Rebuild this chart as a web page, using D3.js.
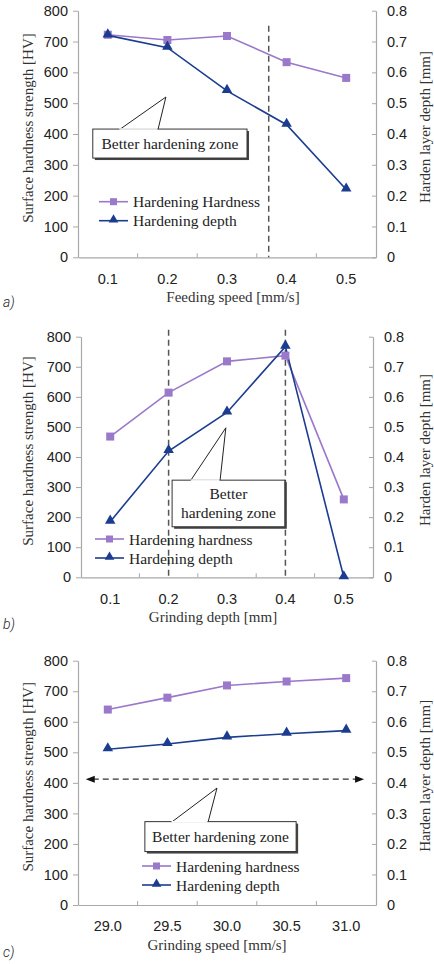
<!DOCTYPE html>
<html><head><meta charset="utf-8">
<script src="https://cdn.jsdelivr.net/npm/d3@7"></script>
<style>body{margin:0;background:#fff}svg{display:block}</style>
</head><body><svg id="chart" width="434" height="964"></svg>
<script>
// ---------- data ----------
const hardnessTicks = [0, 100, 200, 300, 400, 500, 600, 700, 800];
const depthTicks = [0, 0.1, 0.2, 0.3, 0.4, 0.5, 0.6, 0.7, 0.8];
const depthTickLabels = ["0", "0.1", "0.2", "0.3", "0.4", "0.5", "0.6", "0.7", "0.8"];

const feedSpeedCats = [0.1, 0.2, 0.3, 0.4, 0.5];
const feedSpeedLabels = ["0.1", "0.2", "0.3", "0.4", "0.5"];
const feedHardness = [722, 705, 718, 633, 582];
const feedDepth = [0.72, 0.68, 0.54, 0.43, 0.22];
const feedZoneLines = [0.37];

const grindDepthCats = [0.1, 0.2, 0.3, 0.4, 0.5];
const grindDepthLabels = ["0.1", "0.2", "0.3", "0.4", "0.5"];
const grindDepthHardness = [468, 614, 718, 737, 259];
const grindDepthDepth = [0.185, 0.42, 0.548, 0.767, 0];
const grindDepthZoneLines = [0.2, 0.4];

const grindSpeedCats = [29.0, 29.5, 30.0, 30.5, 31.0];
const grindSpeedLabels = ["29.0", "29.5", "30.0", "30.5", "31.0"];
const grindSpeedHardness = [640, 679, 719, 732, 743];
const grindSpeedDepth = [0.51, 0.527, 0.549, 0.561, 0.571];
const grindSpeedZoneArrow = [28.815, 31.15, 412];

const seriesNamesA = ["Hardening Hardness", "Hardening depth"];
const seriesNamesB = ["Hardening hardness", "Hardening depth"];
const calloutText = "Better hardening zone";

// ---------- style ----------
const C_HARD = "#9a78ca";
const C_DEPTH = "#1b3c8f";
const AXIS_C = "#a8a8a8";
const SERIF = "'Liberation Serif','Times New Roman',serif";
const SANS = "'Liberation Sans',Arial,sans-serif";

const svg = d3.select("#chart");
const tri = d3.symbol().type(d3.symbolTriangle).size(48);

function panel(o) {
  const g = svg.append("g");
  const x = d3.scaleBand().domain(o.labels).range([o.left, o.right]).padding(0);
  const bw = x.bandwidth();
  const xv = d3.scaleLinear().domain([o.cats[0], o.cats[o.cats.length - 1]])
    .range([x(o.labels[0]) + bw / 2, x(o.labels[o.labels.length - 1]) + bw / 2]);
  const yL = d3.scaleLinear().domain([0, 800]).range([o.bottom, o.top]);
  const yR = d3.scaleLinear().domain([0, 0.8]).range([o.bottom, o.top]);

  // left axis
  const ax1 = g.append("g").attr("transform", `translate(${o.left},0)`)
    .call(d3.axisLeft(yL).tickValues(hardnessTicks).tickSize(5).tickSizeOuter(0).tickPadding(5));
  // right axis
  const ax2 = g.append("g").attr("transform", `translate(${o.right},0)`)
    .call(d3.axisRight(yR).tickValues(depthTicks).tickFormat((d, i) => depthTickLabels[i])
      .tickSizeInner(-4).tickSizeOuter(0).tickPadding(11));
  // bottom axis
  const ax3 = g.append("g").attr("transform", `translate(0,${o.bottom})`)
    .call(d3.axisBottom(x).tickSize(0).tickPadding(16));
  [ax1, ax2, ax3].forEach(a => {
    a.select(".domain").attr("stroke", AXIS_C).attr("stroke-width", 1.2);
    a.selectAll(".tick line").attr("stroke", AXIS_C);
    a.selectAll("text").attr("font-family", SANS).attr("font-size", 14.5).attr("fill", "#222");
  });
  // category boundary ticks
  g.selectAll(".bt").data(o.labels.slice(1)).enter().append("line")
    .attr("x1", d => x(d)).attr("x2", d => x(d))
    .attr("y1", o.bottom).attr("y2", o.bottom - 4).attr("stroke", AXIS_C);

  // axis titles
  g.append("text").attr("transform", `translate(28,${(o.top + o.bottom) / 2 - 6}) rotate(-90)`)
    .attr("text-anchor", "middle").attr("dominant-baseline", "central")
    .attr("font-family", SERIF).attr("font-size", 15).attr("fill", "#333")
    .text("Surface hardness strength [HV]");
  g.append("text").attr("transform", `translate(425,${(o.top + o.bottom) / 2 - 7}) rotate(-90)`)
    .attr("text-anchor", "middle").attr("dominant-baseline", "central")
    .attr("font-family", SERIF).attr("font-size", 15).attr("fill", "#333")
    .text("Harden layer depth [mm]");
  g.append("text").attr("x", o.titleX).attr("y", o.bottom + 45)
    .attr("text-anchor", "middle").attr("font-family", SERIF).attr("font-size", 15).attr("fill", "#333")
    .text(o.xTitle);
  g.append("text").attr("x", 3).attr("y", o.bottom + o.tagDy)
    .attr("font-family", "Roboto,sans-serif").attr("font-style", "italic").attr("font-weight", 300)
    .attr("font-size", 14).attr("fill", "#222").text(o.tag);

  // zone markers
  if (o.zoneLines) {
    g.selectAll(".zl").data(o.zoneLines).enter().append("line")
      .attr("x1", d => xv(d)).attr("x2", d => xv(d))
      .attr("y1", o.top + o.zoneTop).attr("y2", o.bottom)
      .attr("stroke", "#555").attr("stroke-width", 1.5).attr("stroke-dasharray", "6,4");
  }
  if (o.zoneArrow) {
    const [a0, a1, lv] = o.zoneArrow;
    const yy = yL(lv);
    g.append("line").attr("x1", xv(a0) + 7).attr("x2", xv(a1) - 7).attr("y1", yy).attr("y2", yy)
      .attr("stroke", "#333").attr("stroke-width", 1.3).attr("stroke-dasharray", "6,4");
    [[xv(a0), 1], [xv(a1), -1]].forEach(([px, s]) => {
      g.append("path").attr("d", `M${px},${yy} L${px + s * 9},${yy - 3.5} L${px + s * 9},${yy + 3.5} Z`)
        .attr("fill", "#111");
    });
  }

  // series
  const lineH = d3.line().x((d, i) => xv(o.cats[i])).y(d => yL(d));
  const lineD = d3.line().x((d, i) => xv(o.cats[i])).y(d => yR(d));
  g.append("path").attr("d", lineH(o.hard)).attr("fill", "none").attr("stroke", C_HARD).attr("stroke-width", 1.6);
  g.append("path").attr("d", lineD(o.depth)).attr("fill", "none").attr("stroke", C_DEPTH).attr("stroke-width", 1.6);
  g.selectAll(".mh").data(o.hard).enter().append("rect")
    .attr("x", (d, i) => xv(o.cats[i]) - 4).attr("y", d => yL(d) - 4)
    .attr("width", 8).attr("height", 8).attr("fill", C_HARD);
  g.selectAll(".md").data(o.depth).enter().append("path")
    .attr("d", tri).attr("transform", (d, i) => `translate(${xv(o.cats[i])},${yR(d) - 1})`)
    .attr("fill", C_DEPTH);

  // callout
  const c = o.callout;
  const bx0 = xv(c.x0), bx1 = xv(c.x1), by0 = yL(c.y0), by1 = yL(c.y1);
  const ax = xv(c.ax), ay = yL(c.ay);
  g.append("line").attr("x1", xv(c.b0)).attr("y1", by0 + 1).attr("x2", ax).attr("y2", ay).attr("stroke", "#222").attr("stroke-width", 1);
  g.append("line").attr("x1", xv(c.b1)).attr("y1", by0 + 1).attr("x2", ax).attr("y2", ay).attr("stroke", "#222").attr("stroke-width", 1);
  g.append("rect").attr("x", bx0 + 2).attr("y", by0 + 2).attr("width", bx1 - bx0).attr("height", by1 - by0).attr("fill", "#444");
  g.append("rect").attr("x", bx0).attr("y", by0).attr("width", bx1 - bx0).attr("height", by1 - by0)
    .attr("fill", "#fff").attr("stroke", "#333").attr("stroke-width", 1);
  // cover pointer base inside box top
  g.append("line").attr("x1", xv(c.b0) + 0.5).attr("x2", xv(c.b1) - 0.5).attr("y1", by0).attr("y2", by0)
    .attr("stroke", "#fff").attr("stroke-width", 1.5);
  const lines = c.lines;
  lines.forEach((t, i) => {
    g.append("text").attr("x", (bx0 + bx1) / 2)
      .attr("y", (by0 + by1) / 2 + (i - (lines.length - 1) / 2) * 19)
      .attr("text-anchor", "middle").attr("dominant-baseline", "central")
      .attr("font-family", SERIF).attr("font-size", 15.5).attr("fill", "#222").text(t);
  });

  // legend
  const L = o.legend;
  [0, 1].forEach(i => {
    const ly = o.top + L.y + i * 19;
    const lx = o.left + L.x;
    const col = i === 0 ? C_HARD : C_DEPTH;
    g.append("line").attr("x1", lx).attr("x2", lx + 29).attr("y1", ly).attr("y2", ly)
      .attr("stroke", col).attr("stroke-width", 1.6);
    if (i === 0) g.append("rect").attr("x", lx + 14.5 - 3.5).attr("y", ly - 3.5).attr("width", 7).attr("height", 7).attr("fill", col);
    else g.append("path").attr("d", d3.symbol().type(d3.symbolTriangle).size(40)).attr("transform", `translate(${lx + 14.5},${ly - 1})`).attr("fill", col);
    g.append("text").attr("x", lx + 34).attr("y", ly).attr("dominant-baseline", "central")
      .attr("font-family", SERIF).attr("font-size", 15.5).attr("fill", "#222").text(L.names[i]);
  });
}

panel({
  cats: feedSpeedCats, labels: feedSpeedLabels, hard: feedHardness, depth: feedDepth,
  left: 78, right: 376, top: 10.7, bottom: 257.3, titleX: 233, xTitle: "Feeding speed [mm/s]",
  tag: "a)", tagDy: 50, zoneLines: feedZoneLines, zoneTop: 15,
  callout: { x0: 0.0748, x1: 0.3336, y0: 416, y1: 322, ax: 0.1975, ay: 520, b0: 0.1185, b1: 0.184, lines: [calloutText] },
  legend: { x: 21, y: 191, names: seriesNamesA }
});
panel({
  cats: grindDepthCats, labels: grindDepthLabels, hard: grindDepthHardness, depth: grindDepthDepth,
  left: 81, right: 373, top: 336.7, bottom: 577.3, titleX: 213, xTitle: "Grinding depth [mm]",
  tag: "b)", tagDy: 52, zoneLines: grindDepthZoneLines, zoneTop: -7,
  callout: { x0: 0.206, x1: 0.399, y0: 323, y1: 168, ax: 0.298, ay: 497, b0: 0.237, b1: 0.288, lines: ["Better", "hardening zone"] },
  legend: { x: 14, y: 202.3, names: seriesNamesB }
});
panel({
  cats: grindSpeedCats, labels: grindSpeedLabels, hard: grindSpeedHardness, depth: grindSpeedDepth,
  left: 78, right: 376, top: 660.7, bottom: 905, titleX: 217, xTitle: "Grinding speed [mm/s]",
  tag: "c)", tagDy: 52, zoneArrow: grindSpeedZoneArrow,
  callout: { x0: 29.311, x1: 30.58, y0: 273, y1: 175, ax: 29.916, ay: 383, b0: 29.53, b1: 29.84, lines: [calloutText] },
  legend: { x: 64, y: 205.3, names: seriesNamesB }
});
</script></body></html>
